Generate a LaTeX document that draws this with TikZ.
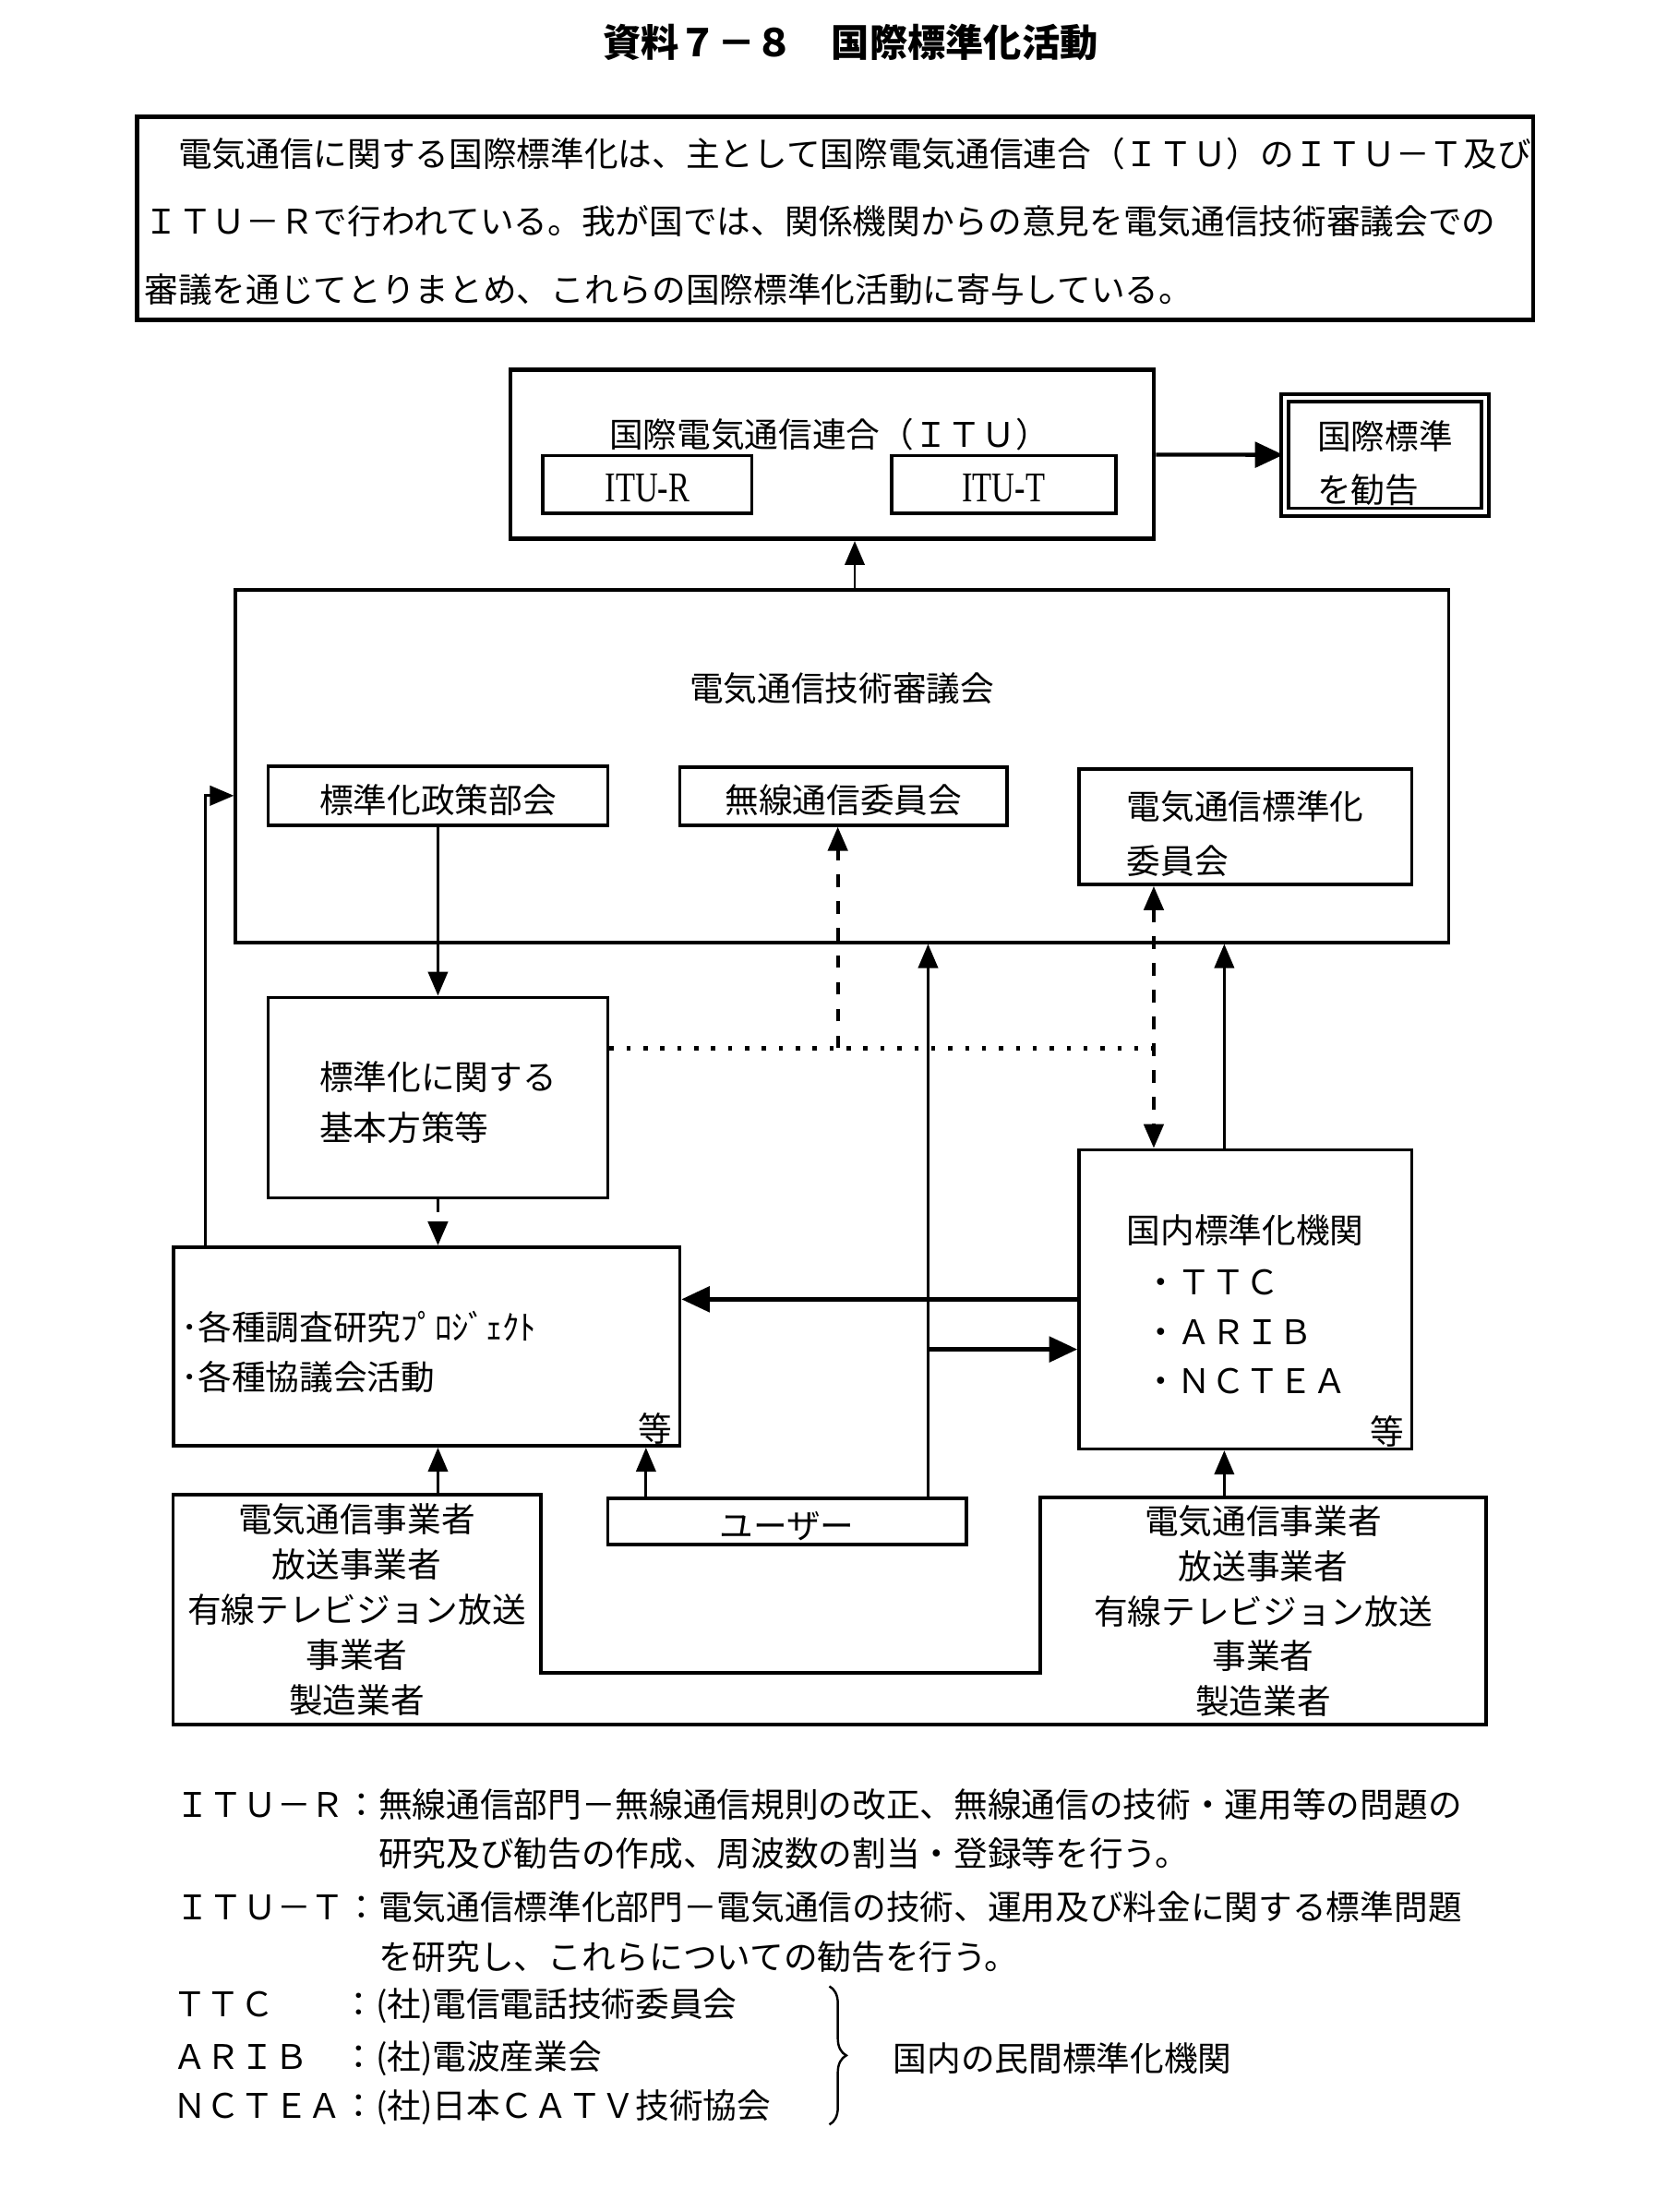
\documentclass[tikz,border=0pt]{standalone}
\usepackage{fontspec}
\newfontfamily\jp{Noto Sans CJK JP}
\newfontfamily\lat[FakeStretch=0.75]{Liberation Serif}
\usetikzlibrary{positioning,arrows.meta,decorations.pathreplacing}

\begin{document}
\begin{tikzpicture}[x=0.5pt, y=-0.5pt,
    every node/.style={font=\jp\fontsize{12pt}{18pt}\selectfont, inner sep=0pt},
    box/.style={draw, line width=1.2pt},
    lowtext/.style={text height=13pt, text depth=1pt},
    txt/.style={anchor=west, align=left},
    arr/.style={-{Triangle[length=8.5pt,width=7pt]}, line width=0.9pt},
    arrboth/.style={{Triangle[length=8.5pt,width=7pt]}-{Triangle[length=8.5pt,width=7pt]}, line width=0.9pt},
    bigarr/.style={-{Triangle[length=10pt,width=9pt]}, line width=1.4pt},
    dashline/.style={dash pattern=on 4.5pt off 5pt, line width=1.2pt},
    dotline/.style={dash pattern=on 1.5pt off 4.5pt, line width=1.8pt}]
    \fill[white] (0,0) rectangle (1190,1568);
    \useasboundingbox (0,0) rectangle (1190,1568);

    % title and introduction
    \node[font=\jp\bfseries\fontsize{13.5pt}{16pt}\selectfont] (title) at (603,30) {資料７－８　国際標準化活動};
    \node[draw, line width=1.6pt, minimum width=495pt, minimum height=72pt] (intro) at (592,155) {};
    \node[txt, font=\jp\fontsize{12pt}{24pt}\selectfont] (introtext) at (102,157)
        {　電気通信に関する国際標準化は、主として国際電気通信連合（ＩＴＵ）のＩＴＵ－Ｔ及び\\
         ＩＴＵ－Ｒで行われている。我が国では、関係機関からの意見を電気通信技術審議会での\\
         審議を通じてとりまとめ、これらの国際標準化活動に寄与している。};

    % ITU
    \node[box, line width=1.5pt, minimum width=228pt, minimum height=60pt] (itu) at (590,322) {};
    \node (itutitle) at (588,308) {国際電気通信連合（ＩＴＵ）};
    \node[box, lowtext, minimum width=74pt, minimum height=20.5pt, font=\lat\fontsize{15pt}{18pt}\selectfont] (itur) at (459,343.5) {ITU-R};
    \node[box, lowtext, minimum width=79.5pt, minimum height=20.5pt, font=\lat\fontsize{15pt}{18pt}\selectfont] (itut) at (711.5,343.5) {ITU-T};
    \node[box, double, double distance=1.5pt, minimum width=71pt, minimum height=40.5pt] (rec) at (982,322.5) {};
    \node[align=left, font=\jp\fontsize{12pt}{19pt}\selectfont] (rectext) at (982,328) {国際標準\\を勧告};

    % council
    \node[box, minimum width=430pt, minimum height=125pt] (shingi) at (597,543) {};
    \node (shingititle) at (597,488) {電気通信技術審議会};
    \node[box, lowtext, minimum width=120.5pt, minimum height=21pt] (seisaku) at (310.5,564) {標準化政策部会};
    \node[box, lowtext, minimum width=116pt, minimum height=20.5pt] (musen) at (598,564.5) {無線通信委員会};
    \node[box, minimum width=118pt, minimum height=41pt] (hyojun) at (883,586) {};
    \node[align=left, font=\jp\fontsize{12pt}{19.5pt}\selectfont] (hyojuntext) at (883,591) {電気通信標準化\\委員会};

    \node[box, minimum width=120.5pt, minimum height=71pt] (hoshin) at (310.5,778) {};
    \node[align=left, font=\jp\fontsize{12pt}{18pt}\selectfont] (hoshintext) at (310.5,781.5) {標準化に関する\\基本方策等};

    \node[box, minimum width=179.5pt, minimum height=70.5pt] (chosa) at (302.5,954.5) {};
    \node[txt, font=\jp\fontsize{12pt}{17.5pt}\selectfont] (chosatext) at (128,958.5)
        {･各種調査研究ﾌﾟﾛｼﾞｪｸﾄ\\･各種協議会活動};
    \node[above left=1pt and 3pt of chosa.south east] (chosaetc) {等};

    \node[box, minimum width=118pt, minimum height=106pt] (kokunai) at (883,921) {};
    \node[align=left, font=\jp\fontsize{12pt}{17.5pt}\selectfont] (kokunaitext) at (883,924.5)
        {国内標準化機関\\[1pt]\hspace*{6pt}・ＴＴＣ\\\hspace*{6pt}・ＡＲＩＢ\\\hspace*{6pt}・ＮＣＴＥＡ};
    \node[above left=1pt and 3pt of kokunai.south east] (kokunaietc) {等};

    % operators and users
    \node[minimum width=130pt, minimum height=81pt, align=center,
          font=\jp\fontsize{12pt}{16pt}\selectfont] (jigyoL) at (253,1141)
        {電気通信事業者\\放送事業者\\有線テレビジョン放送\\事業者\\製造業者};
    \node[minimum width=157.5pt, minimum height=80pt, align=center,
          font=\jp\fontsize{12pt}{16pt}\selectfont] (jigyoR) at (895.5,1142)
        {電気通信事業者\\放送事業者\\有線テレビジョン放送\\事業者\\製造業者};
    \draw[line width=1.2pt] (jigyoL.north west) -- (jigyoL.north east) -- ([yshift=-63pt]jigyoL.north east)
        -| (jigyoR.north west) -- (jigyoR.north east) -- (jigyoR.south east) -- (jigyoL.south west) -- cycle;
    \node[box, lowtext, minimum width=127pt, minimum height=16.5pt] (user) at (558,1078.5) {ユーザー};

    % connectors
    \coordinate (dh) at (818,743);
    \coordinate (dm) at (594,743);
    \coordinate (ku) at ([xshift=-7.5pt]kokunai.north);
    \coordinate (uu) at ([xshift=50pt]user.north);
    \coordinate (ul) at ([xshift=-50pt]user.north);

    \path[bigarr] (itu) edge (rec);
    \draw[arr] ([xshift=4.5pt]shingi.north) -- ([xshift=8pt]itu.south);
    \draw[arr] (seisaku) -- (hoshin);
    \draw[arr, dashline] (hoshin) -- (hoshin |- chosa.north);
    \draw[arr] ([xshift=12pt]chosa.north west) |- (shingi.west |- seisaku);
    \draw[dotline] (hoshin.east |- dh) -- (dh);
    \draw[arr, dashline] (dm) -- (dm |- musen.south);
    \draw[arrboth, dashline] (dh |- hyojun.south) -- (dh |- kokunai.north);
    \draw[arr] (uu) -- (uu |- shingi.south);
    \draw[arr] (ku) -- (ku |- shingi.south);
    \draw[bigarr] (kokunai.west) -- (kokunai.west -| chosa.east);
    \draw[bigarr] ([yshift=-1pt]uu |- chosa.east) -- ([yshift=-1pt]kokunai.west |- chosa.east);
    \draw[arr] (jigyoL.north -| hoshin) -- (hoshin |- chosa.south);
    \draw[arr] (ul) -- (ul |- chosa.south);
    \draw[arr] (ku |- jigyoR.north) -- (ku |- kokunai.south);

    % notes
    \node[txt] (noteR) at (124,1279) {ＩＴＵ－Ｒ：無線通信部門－無線通信規則の改正、無線通信の技術・運用等の問題の};
    \node[txt] (noteRb) at (268,1314) {研究及び勧告の作成、周波数の割当・登録等を行う。};
    \node[txt] (noteT) at (124,1352) {ＩＴＵ－Ｔ：電気通信標準化部門－電気通信の技術、運用及び料金に関する標準問題};
    \node[txt] (noteTb) at (268,1387) {を研究し、これらについての勧告を行う。};
    \node[txt] (ttc) at (122,1422) {ＴＴＣ　　：(社)電信電話技術委員会};
    \node[txt] (arib) at (122,1459) {ＡＲＩＢ　：(社)電波産業会};
    \node[txt] (nctea) at (122,1494) {ＮＣＴＥＡ：(社)日本ＣＡＴＶ技術協会};
    \draw[decorate, decoration={brace, amplitude=6pt}, line width=0.8pt] (588,1408) -- (588,1506);
    \node[txt] (minkan) at (633,1459) {国内の民間標準化機関};
\end{tikzpicture}
\end{document}
